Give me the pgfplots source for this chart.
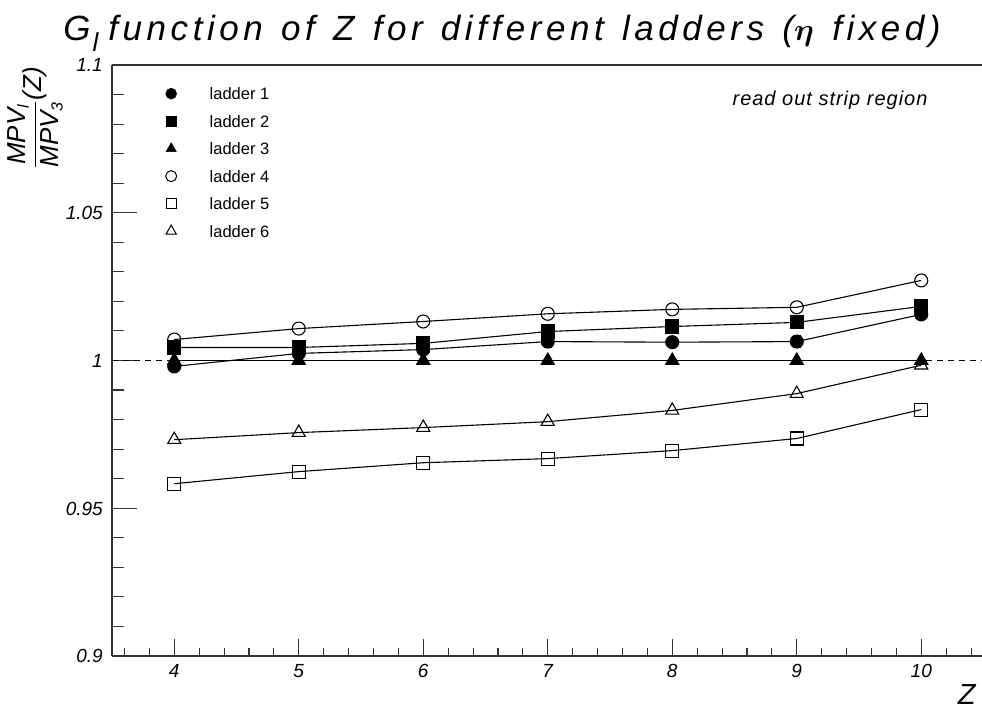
\documentclass[border=0pt]{standalone}
\usepackage{amsmath}
\usepackage{pgfplots}
\pgfplotsset{compat=1.18}
\usepackage{fontspec}
\setmainfont{Liberation Sans}

% Ratio of most probable values per ladder, readout strip region
\pgfplotstableread{
Z   l1      l2      l3   l4      l5      l6      e1
4   0.9980  1.0044  1.0  1.0071  0.9583  0.9732  0.0012
5   1.0024  1.0044  1.0  1.0108  0.9624  0.9756  0.0012
6   1.0037  1.0058  1.0  1.0132  0.9654  0.9773  0.0012
7   1.0064  1.0098  1.0  1.0158  0.9668  0.9793  0.0021
8   1.0062  1.0115  1.0  1.0173  0.9695  0.9831  0.0012
9   1.0064  1.0129  1.0  1.0180  0.9736  0.9888  0.0021
10  1.0156  1.0183  1.0  1.0271  0.9834  0.9984  0.0012
}\ladders

\pgfplotsset{
  frame/.style={
    at={(112pt,51pt)}, anchor=south west,
    scale only axis, width=870pt, height=591pt,
    xmin=3.5, xmax=10.488, ymin=0.9, ymax=1.1,
    axis x line*=box, axis y line*=left,
    tick align=inside,
    axis line style={line width=1.2pt, black!80},
    every tick/.style={line width=1.1pt, black!80},
    xtick pos=left, ytick pos=left,
    /pgf/number format/assume math mode=true,
    ticklabel style={font=\itshape\fontsize{19}{19}\selectfont, inner sep=0pt,
      text height=13.6pt, text depth=0pt},
    clip=false,
  },
  curve/.style={black, line width=1.1pt, mark options={solid, line width=1.1pt}},
}

\begin{document}
\begin{tikzpicture}
\path[use as bounding box] (0,0) rectangle (982pt,707pt);

% short x ticks every 0.2
\begin{axis}[frame,
  xtick={3.6,3.8,4.2,4.4,4.6,4.8,5.2,5.4,5.6,5.8,6.2,6.4,6.6,6.8,
    7.2,7.4,7.6,7.8,8.2,8.4,8.6,8.8,9.2,9.4,9.6,9.8,10.2,10.4},
  xticklabels={}, major tick length=8pt,
  ytick=\empty,
]
\end{axis}

% long x ticks with labels
\begin{axis}[frame,
  xtick={4,5,6,7,8,9,10},
  major tick length=17pt,
  ytick=\empty,
  xticklabel style={anchor=north, yshift=-8pt},
]
\end{axis}

% y ticks, data and legend
\begin{axis}[frame,
  xtick=\empty,
  ytick={0.9,0.95,1,1.05,1.1},
  minor ytick={0.91,0.92,0.93,0.94,0.96,0.97,0.98,0.99,
    1.01,1.02,1.03,1.04,1.06,1.07,1.08,1.09},
  every minor tick/.style={line width=1.1pt, black!80},
  major tick length=25pt, minor tick length=12pt,
  yticklabel style={anchor=east, xshift=-9pt},
  legend style={draw=none, fill=none, inner sep=0pt, column sep=33pt,
    row sep=15.5pt,
    at={(0.0615,0.962)}, anchor=north west,
    font=\fontsize{16.5}{16.5}\selectfont,
    nodes={inner sep=0pt, text height=12pt, text depth=0pt}},
  legend cell align=left,
]
\addplot[black, line width=1pt, dash pattern=on 6pt off 5pt, forget plot]
  coordinates {(3.5,1) (10.488,1)};

\addplot[curve, mark=*, mark size=6.5pt, forget plot,
  error bars/.cd, y dir=both, y explicit,
  error mark=-, error bar style={line width=1pt},
  error mark options={mark size=4pt, line width=1pt, rotate=90}]
  table[x=Z, y=l1, y error=e1] {\ladders};
\addplot[curve, mark=square*, mark size=6.5pt, forget plot]
  table[x=Z, y=l2] {\ladders};
\addplot[curve, mark=triangle*, mark size=7.5pt, forget plot]
  table[x=Z, y=l3] {\ladders};
\addplot[curve, mark=o, mark size=6.5pt, forget plot]
  table[x=Z, y=l4] {\ladders};
\addplot[curve, mark=square, mark size=6.5pt, forget plot]
  table[x=Z, y=l5] {\ladders};
\addplot[curve, mark=triangle, mark size=7.5pt, forget plot]
  table[x=Z, y=l6] {\ladders};

\addlegendimage{only marks, black, mark=*, mark size=5.5pt}
\addlegendentry{ladder 1}
\addlegendimage{only marks, black, mark=square*, mark size=5pt}
\addlegendentry{ladder 2}
\addlegendimage{only marks, black, mark=triangle*, mark size=6pt}
\addlegendentry{ladder 3}
\addlegendimage{only marks, black, mark=o, mark size=5.5pt, mark options={line width=1pt}}
\addlegendentry{ladder 4}
\addlegendimage{only marks, black, mark=square, mark size=5pt, mark options={line width=1pt}}
\addlegendentry{ladder 5}
\addlegendimage{only marks, black, mark=triangle, mark size=6pt, mark options={line width=1pt}}
\addlegendentry{ladder 6}
\end{axis}

% titles
\node[anchor=base, font=\itshape\fontsize{35}{35}\selectfont\addfontfeature{LetterSpace=13}] at (502pt,666pt)
  {G\hspace{2pt}\raisebox{-11pt}{\fontsize{26}{26}\selectfont l}\hspace{10pt}function\hspace{4pt} of\hspace{4pt} Z\hspace{4pt} for\hspace{4pt} different\hspace{4pt} ladders\hspace{4pt} (\scalebox{1.25}{$\boldsymbol{\eta}$}\hspace{4pt} fixed)};
\node[rotate=90, font=\itshape\fontsize{26}{26}\selectfont] at (35pt,589pt)
  {$\displaystyle\frac{\mbox{MPV}_{\mbox{\fontsize{16}{16}\selectfont l}}}{\mbox{MPV}_{\mbox{\fontsize{16}{16}\selectfont 3}}}\mbox{(Z)}$};
\node[anchor=base east, font=\itshape\fontsize{29}{29}\selectfont] at (979pt,3pt) {Z};
\node[anchor=base east, font=\itshape\fontsize{20}{20}\selectfont\addfontfeature{LetterSpace=5}] at (931pt,601pt) {read out strip region};
\end{tikzpicture}
\end{document}
